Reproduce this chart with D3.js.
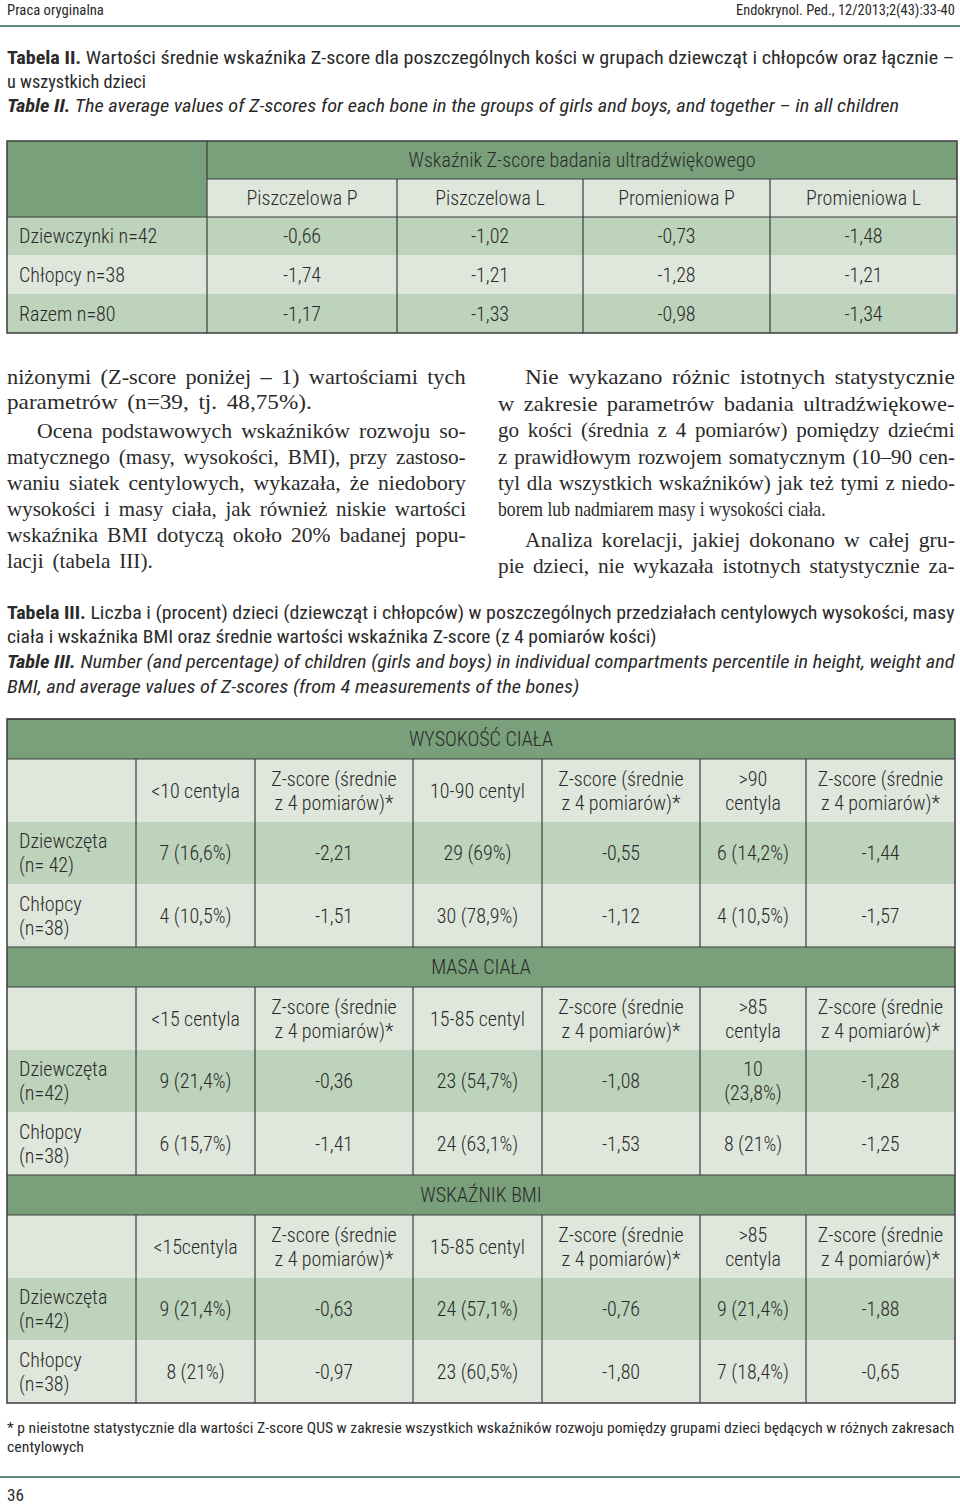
<!DOCTYPE html>
<html><head><meta charset="utf-8">
<script src="https://cdn.jsdelivr.net/npm/d3@7"></script>
<style>body{margin:0;background:#fff}svg{display:block}</style>
</head><body><svg id="c" width="960" height="1505"></svg>
<script>
// ---------- DATA ----------
const pageHeadLeft = "Praca oryginalna";
const pageHeadRight = "Endokrynol. Ped., 12/2013;2(43):33-40";
const t2Caption = [
  [["Tabela II.", "b"], [" Wartości średnie wskaźnika Z-score dla poszczególnych kości w grupach dziewcząt i chłopców oraz łącznie –", ""]],
  [["u wszystkich dzieci", ""]],
  [["Table II.", "bi"], [" The average values of Z-scores for each bone in the groups of girls and boys, and together – in all children", "i"]]
];
const t2Super = "Wskaźnik Z-score badania ultradźwiękowego";
const t2Columns = ["Piszczelowa P", "Piszczelowa L", "Promieniowa P", "Promieniowa L"];
const t2Groups = ["Dziewczynki n=42", "Chłopcy n=38", "Razem n=80"];
const t2Girls = [-0.66, -1.02, -0.73, -1.48];
const t2Boys = [-1.74, -1.21, -1.28, -1.21];
const t2All = [-1.17, -1.33, -0.98, -1.34];

const bodyLeft = [
  "niżonymi (Z-score poniżej – 1) wartościami tych",
  "parametrów (n=39, tj. 48,75%).",
  "Ocena podstawowych wskaźników rozwoju so-",
  "matycznego (masy, wysokości, BMI), przy zastoso-",
  "waniu siatek centylowych, wykazała, że niedobory",
  "wysokości i masy ciała, jak również niskie wartości",
  "wskaźnika BMI dotyczą około 20% badanej popu-",
  "lacji (tabela III)."
];
const bodyRight = [
  "Nie wykazano różnic istotnych statystycznie",
  "w zakresie parametrów badania ultradźwiękowe-",
  "go kości (średnia z 4 pomiarów) pomiędzy dziećmi",
  "z prawidłowym rozwojem somatycznym (10–90 cen-",
  "tyl dla wszystkich wskaźników) jak też tymi z niedo-",
  "borem lub nadmiarem masy i wysokości ciała.",
  "Analiza korelacji, jakiej dokonano w całej gru-",
  "pie dzieci, nie wykazała istotnych statystycznie za-"
];

const t3Caption = [
  [["Tabela III.", "b"], [" Liczba i (procent) dzieci (dziewcząt i chłopców) w poszczególnych przedziałach centylowych wysokości, masy", ""]],
  [["ciała i wskaźnika BMI oraz średnie wartości wskaźnika Z-score (z 4 pomiarów kości)", ""]],
  [["Table III.", "bi"], [" Number (and percentage) of children (girls and boys) in individual compartments percentile in height, weight and", "i"]],
  [["BMI, and average values of Z-scores (from 4 measurements of the bones)", "i"]]
];
const t3Sections = ["WYSOKOŚĆ CIAŁA", "MASA CIAŁA", "WSKAŹNIK BMI"];
const zHead = "Z-score (średnie|z 4 pomiarów)*";
const t3HeadHeight = ["<10 centyla", zHead, "10-90 centyl", zHead, ">90|centyla", zHead];
const t3HeadMass = ["<15 centyla", zHead, "15-85 centyl", zHead, ">85|centyla", zHead];
const t3HeadBmi = ["<15centyla", zHead, "15-85 centyl", zHead, ">85|centyla", zHead];
const t3LabelsHeight = ["Dziewczęta|(n= 42)", "Chłopcy|(n=38)"];
const t3LabelsOther = ["Dziewczęta|(n=42)", "Chłopcy|(n=38)"];
// counts, percents, z-scores for: below / normal / above
const heightGirlsN = [7, 29, 6], heightGirlsPct = [16.6, 69, 14.2], heightGirlsZ = [-2.21, -0.55, -1.44];
const heightBoysN = [4, 30, 4], heightBoysPct = [10.5, 78.9, 10.5], heightBoysZ = [-1.51, -1.12, -1.57];
const massGirlsN = [9, 23, 10], massGirlsPct = [21.4, 54.7, 23.8], massGirlsZ = [-0.36, -1.08, -1.28];
const massBoysN = [6, 24, 8], massBoysPct = [15.7, 63.1, 21], massBoysZ = [-1.41, -1.53, -1.25];
const bmiGirlsN = [9, 24, 9], bmiGirlsPct = [21.4, 57.1, 21.4], bmiGirlsZ = [-0.63, -0.76, -1.88];
const bmiBoysN = [8, 23, 7], bmiBoysPct = [21, 60.5, 18.4], bmiBoysZ = [-0.97, -1.80, -0.65];

const footnote = [
  "* p nieistotne statystycznie dla wartości Z-score QUS w zakresie wszystkich wskaźników rozwoju pomiędzy grupami dzieci będących w różnych zakresach",
  "centylowych"
];
const pageNumber = "36";

// ---------- STYLE / LAYOUT ----------
const SANS = "'Roboto Condensed','Liberation Sans Narrow','Arial Narrow',sans-serif";
const SERIF = "'Liberation Serif','Times New Roman',serif";
const TXT = "#2a2a2a";
const DARK = "#79a07b", MID = "#bed3bb", LIGHT = "#dfe7dc", LINE = "#3c3c3c", RULE = "#5d8c74";

const loc = d3.formatLocale({decimal: ",", thousands: " ", grouping: [3], currency: ["", ""], minus: "-"});
const fz = loc.format(".2f");
const fp = loc.format("~f");

const svg = d3.select("#c");

// text line helper: parts [[text, style]]
// width: fit by horizontal scale; justify: fit using word spacing (capped) then glyph scale
function line(g, parts, x, y, opt) {
  const o = Object.assign({size: 18, family: SANS, width: null, justify: null, cap: 4, anchor: "start", fill: TXT, weight: null}, opt || {});
  const grp = g.append("g");
  const t = grp.append("text").attr("x", 0).attr("y", 0).attr("dy", "0.35em")
    .attr("font-family", o.family).attr("font-size", o.size).attr("fill", o.fill)
    .attr("font-weight", o.weight);
  parts.forEach(p => {
    t.append("tspan").text(p[0])
      .attr("font-weight", p[1].includes("b") ? "bold" : null)
      .attr("font-style", p[1].includes("i") ? "italic" : null);
  });
  let w = t.node().getComputedTextLength();
  let s = 1;
  if (o.justify) {
    const T = o.justify;
    const txt = parts.map(p => p[0]).join("");
    const n = (txt.match(/ /g) || []).length;
    if (w < T && n > 0) {
      const per = Math.min(o.cap, (T - w) / n);
      t.attr("word-spacing", per);
      w = t.node().getComputedTextLength();
    }
    s = T / w;
  } else if (o.width) {
    s = o.width / w;
  }
  const tx = o.anchor === "end" ? x - w * s : (o.anchor === "middle" ? x - w * s / 2 : x);
  grp.attr("transform", `translate(${tx},${y}) scale(${s},1)`);
  return grp;
}

// ---------- PAGE HEADER ----------
line(svg, [[pageHeadLeft, ""]], 7, 10, {size: 15, width: 97});
line(svg, [[pageHeadRight, ""]], 955, 10, {size: 15, anchor: "end", width: 219});
svg.append("line").attr("x1", 0).attr("x2", 960).attr("y1", 26).attr("y2", 26)
  .attr("stroke", RULE).attr("stroke-width", 2);

// ---------- TABLE II CAPTION ----------
const t2CapY = [57, 81, 105], t2CapW = [948, 139, 893];
t2Caption.forEach((p, i) => line(svg, p, 7, t2CapY[i], {size: 19, width: t2CapW[i]}));

// ---------- TABLE II ----------
const x2 = d3.scaleLinear().domain(d3.range(6)).range([7, 207, 397, 583, 770, 957]);
const y2 = d3.scaleLinear().domain(d3.range(6)).range([141, 179, 217, 255, 294, 333]);
const T2 = svg.append("g");
const t2Rows = [t2Girls, t2Boys, t2All];
const rowFill = [MID, LIGHT, MID];
T2.append("rect").attr("x", x2(0)).attr("y", y2(0)).attr("width", x2(5) - x2(0)).attr("height", y2(1) - y2(0)).attr("fill", DARK);
T2.append("rect").attr("x", x2(0)).attr("y", y2(0)).attr("width", x2(1) - x2(0)).attr("height", y2(2) - y2(0)).attr("fill", DARK);
T2.append("rect").attr("x", x2(1)).attr("y", y2(1)).attr("width", x2(5) - x2(1)).attr("height", y2(2) - y2(1)).attr("fill", LIGHT);
T2.selectAll("rect.row").data(t2Rows).join("rect").attr("class", "row")
  .attr("x", x2(0)).attr("y", (d, i) => y2(i + 2)).attr("width", x2(5) - x2(0))
  .attr("height", (d, i) => y2(i + 3) - y2(i + 2)).attr("fill", (d, i) => rowFill[i]);
T2.append("line").attr("x1", x2(1)).attr("x2", x2(5)).attr("y1", y2(1)).attr("y2", y2(1)).attr("stroke", LINE).attr("stroke-width", 1.2);
T2.append("line").attr("x1", x2(0)).attr("x2", x2(5)).attr("y1", y2(2)).attr("y2", y2(2)).attr("stroke", LINE).attr("stroke-width", 1.2);
T2.append("line").attr("x1", x2(1)).attr("x2", x2(1)).attr("y1", y2(0)).attr("y2", y2(5)).attr("stroke", LINE).attr("stroke-width", 1.2);
[2, 3, 4].forEach(c => T2.append("line").attr("x1", x2(c)).attr("x2", x2(c)).attr("y1", y2(1)).attr("y2", y2(5)).attr("stroke", LINE).attr("stroke-width", 1.2));
T2.append("rect").attr("x", x2(0)).attr("y", y2(0)).attr("width", x2(5) - x2(0)).attr("height", y2(5) - y2(0))
  .attr("fill", "none").attr("stroke", LINE).attr("stroke-width", 1.5);
const cellOpt = {size: 20, weight: 300};
line(T2, [[t2Super, ""]], (x2(1) + x2(5)) / 2, (y2(0) + y2(1)) / 2, Object.assign({anchor: "middle"}, cellOpt));
t2Columns.forEach((c, i) => line(T2, [[c, ""]], x2(i + 1.5), (y2(1) + y2(2)) / 2, Object.assign({anchor: "middle"}, cellOpt)));
t2Groups.forEach((g, r) => {
  const cy = (y2(r + 2) + y2(r + 3)) / 2;
  line(T2, [[g, ""]], 19, cy, cellOpt);
  t2Rows[r].forEach((v, c) => line(T2, [[fz(v), ""]], x2(c + 1.5), cy, Object.assign({anchor: "middle"}, cellOpt)));
});

// ---------- BODY TEXT ----------
const leftY = [377, 402, 431, 457, 483, 509, 535, 561];
const leftX = [7, 7, 37, 7, 7, 7, 7, 7];
const leftEnd = [466, 312, 466, 466, 466, 466, 466, 153];
bodyLeft.forEach((s, i) => line(svg, [[s, ""]], leftX[i], leftY[i],
  {size: 21, family: SERIF, justify: leftEnd[i] - leftX[i], cap: 3.5}));
const rightY = [377, 404, 430, 457, 483, 509, 540, 566];
const rightX = [525, 498, 498, 498, 498, 498, 525, 498];
const rightEnd = [955, 955, 955, 955, 955, 826, 955, 955];
bodyRight.forEach((s, i) => line(svg, [[s, ""]], rightX[i], rightY[i],
  {size: 21, family: SERIF, justify: rightEnd[i] - rightX[i], cap: 3.5}));

// ---------- TABLE III CAPTION ----------
const t3CapY = [612, 636, 661, 686], t3CapW = [948, 650, 948, 573];
t3Caption.forEach((p, i) => line(svg, p, 7, t3CapY[i], {size: 19, width: t3CapW[i]}));

// ---------- TABLE III ----------
const x3 = d3.scaleLinear().domain(d3.range(8)).range([7, 136, 255, 413, 542, 700, 806, 955]);
const secTop = d3.scaleLinear().domain([0, 1]).range([719, 947]);
const secRows = [0, 40, 103, 165.5, 228];
const T3 = svg.append("g");
const sections = [
  {title: t3Sections[0], head: t3HeadHeight, labels: t3LabelsHeight,
   rows: [[heightGirlsN, heightGirlsPct, heightGirlsZ], [heightBoysN, heightBoysPct, heightBoysZ]]},
  {title: t3Sections[1], head: t3HeadMass, labels: t3LabelsOther,
   rows: [[massGirlsN, massGirlsPct, massGirlsZ], [massBoysN, massBoysPct, massBoysZ]]},
  {title: t3Sections[2], head: t3HeadBmi, labels: t3LabelsOther,
   rows: [[bmiGirlsN, bmiGirlsPct, bmiGirlsZ], [bmiBoysN, bmiBoysPct, bmiBoysZ]]}
];
function multi(g, str, cx, cy, anchor) {
  const parts = str.split("|");
  parts.forEach((p, k) => line(g, [[p, ""]], cx, cy + (k - (parts.length - 1) / 2) * 24, Object.assign({anchor: anchor}, cellOpt)));
}
sections.forEach((sec, si) => {
  const top = secTop(si);
  const ry = k => top + secRows[k];
  const W = x3(7) - x3(0);
  T3.append("rect").attr("x", x3(0)).attr("y", ry(0)).attr("width", W).attr("height", ry(1) - ry(0)).attr("fill", DARK);
  [LIGHT, MID, LIGHT].forEach((f, k) => T3.append("rect").attr("x", x3(0)).attr("y", ry(k + 1)).attr("width", W).attr("height", ry(k + 2) - ry(k + 1)).attr("fill", f));
  [0, 1].forEach(k => T3.append("line").attr("x1", x3(0)).attr("x2", x3(7)).attr("y1", ry(k)).attr("y2", ry(k)).attr("stroke", LINE).attr("stroke-width", 1.2));
  d3.range(1, 7).forEach(c => T3.append("line").attr("x1", x3(c)).attr("x2", x3(c)).attr("y1", ry(1)).attr("y2", ry(4)).attr("stroke", LINE).attr("stroke-width", 1.2));
  line(T3, [[sec.title, ""]], (x3(0) + x3(7)) / 2, (ry(0) + ry(1)) / 2, Object.assign({anchor: "middle"}, cellOpt));
  sec.head.forEach((h, c) => multi(T3, h, x3(c + 1.5), (ry(1) + ry(2)) / 2, "middle"));
  sec.rows.forEach((r, k) => {
    const cy = (ry(k + 2) + ry(k + 3)) / 2;
    multi(T3, sec.labels[k], 19, cy, "start");
    [0, 1, 2].forEach(j => {
      const colN = 1 + j * 2, colZ = 2 + j * 2;
      let s = r[0][j] + " (" + fp(r[1][j]) + "%)";
      if (s.length * 9.3 > (x3(colN + 1) - x3(colN)) - 14) s = s.replace(" ", "|");
      multi(T3, s, x3(colN + 0.5), cy, "middle");
      multi(T3, fz(r[2][j]), x3(colZ + 0.5), cy, "middle");
    });
  });
});
T3.append("rect").attr("x", x3(0)).attr("y", secTop(0)).attr("width", x3(7) - x3(0)).attr("height", secTop(3) - secTop(0))
  .attr("fill", "none").attr("stroke", LINE).attr("stroke-width", 1.5);

// ---------- FOOTNOTE ----------
line(svg, [[footnote[0], ""]], 7, 1428, {size: 15, width: 948});
line(svg, [[footnote[1], ""]], 7, 1447, {size: 15, width: 77});
svg.append("line").attr("x1", 0).attr("x2", 960).attr("y1", 1477).attr("y2", 1477).attr("stroke", RULE).attr("stroke-width", 2);
line(svg, [[pageNumber, ""]], 7, 1495, {size: 17, width: 17});
</script></body></html>
